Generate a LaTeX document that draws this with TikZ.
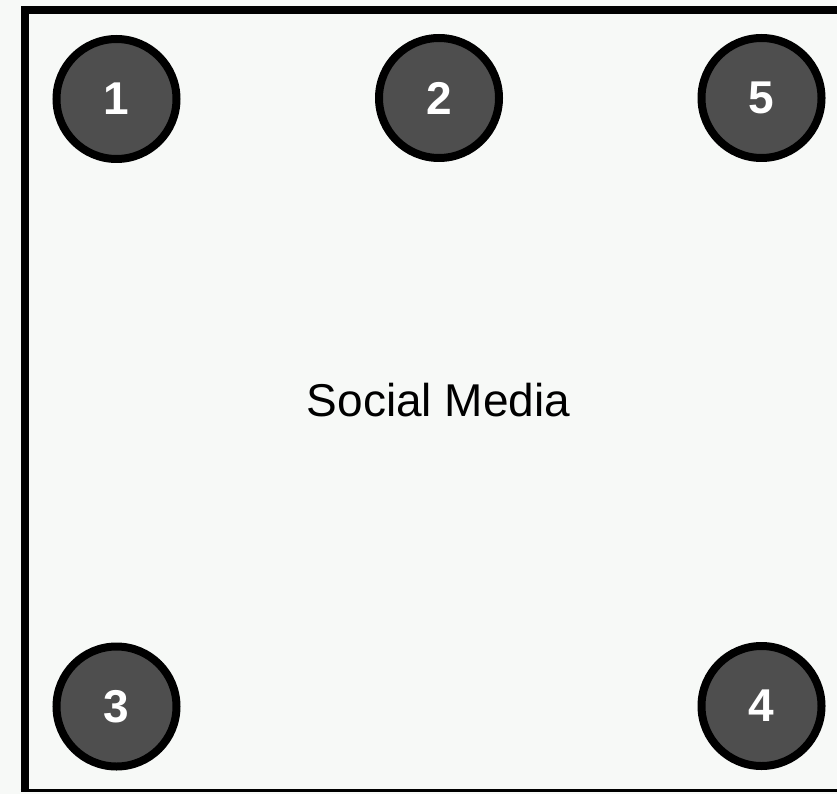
\documentclass[tikz,border=0pt]{standalone}
\usepackage{fontspec}
\setmainfont{Liberation Sans}
\definecolor{bgc}{RGB}{247,249,247}
\definecolor{discfill}{RGB}{78,78,78}
\begin{document}
\begin{tikzpicture}[x=1pt,y=-1pt,
  disc/.style={circle,draw=black,line width=8pt,fill=discfill,minimum size=120pt,inner sep=0pt,
    text=white,font=\fontsize{46}{46}\selectfont\bfseries},
  lbl/.style={font=\fontsize{46}{46}\selectfont,text=black}]
  \fill[bgc] (0,0) rectangle (837,794);
  \useasboundingbox (0,0) rectangle (837,794);
  \coordinate (tl) at (24.5,10);
  \coordinate (tr) at (845,10);
  \coordinate (bl) at (24.5,790.5);
  \coordinate (br) at (845,790.5);
  \draw[line width=8pt] (tr) -- (tl) -- (24.5,792);
  \draw[line width=3pt] (20.5,790.5) -- (br);
  \node[disc] (n1) at (116.5,99) {1};
  \node[disc] (n2) at (439,98) {2};
  \node[disc] (n5) at (761.5,98) {5};
  \node[disc] (n3) at (116.5,706.5) {3};
  \node[disc] (n4) at (761.5,706) {4};
  \node[lbl] (sm) at (438.5,400) {Social Media};
\end{tikzpicture}
\end{document}
